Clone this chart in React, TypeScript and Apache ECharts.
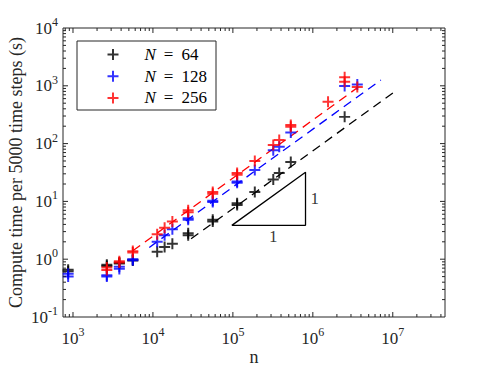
import React, { useEffect, useRef } from 'react';
import * as echarts from 'echarts';

// ---- data ----
const n64 = [870, 870, 2650, 2650, 3800, 3800, 5600, 5600, 11300, 14000, 17500, 27600, 27600, 56000, 56000, 113000, 113000, 188000, 320000, 380000, 530000, 2500000];
const t64 = [0.66, 0.62, 0.80, 0.76, 0.87, 0.84, 0.98, 0.95, 1.35, 1.62, 1.85, 2.8, 2.6, 4.5, 4.8, 9.3, 8.7, 14.6, 24, 31, 48, 290];

const n128 = [870, 870, 2650, 2650, 3800, 3800, 5600, 5600, 11300, 14000, 17500, 27600, 27600, 56000, 56000, 113000, 113000, 188000, 320000, 380000, 530000, 2500000, 3600000];
const t128 = [0.56, 0.50, 0.50, 0.53, 0.68, 0.74, 1.0, 0.96, 2.0, 2.6, 3.3, 4.8, 5.1, 9.8, 10.3, 21, 22, 35, 77, 88, 155, 990, 1050];

const n256 = [2650, 2650, 3800, 3800, 5600, 5600, 11300, 14000, 17500, 27600, 27600, 56000, 56000, 113000, 113000, 188000, 320000, 380000, 530000, 530000, 1550000, 2500000, 2500000, 3600000];
const t256 = [0.72, 0.65, 0.92, 0.88, 1.38, 1.30, 2.7, 3.5, 4.5, 7.0, 6.5, 13.6, 14.5, 29, 31, 50, 95, 115, 195, 210, 528, 1400, 1180, 950];

// dashed fit lines (end points)
const fit64N = [30000, 11200000];
const fit64T = [2.25, 840];
const fit128N = [9000, 7100000];
const fit128T = [1.6, 1260];
const fit256N = [5600, 3700000];
const fit256T = [1.4, 950];

// slope triangle
const triN = [97000, 810000, 810000, 97000];
const triT = [3.85, 3.85, 32, 3.85];
const triLabelRight = [810000, 11.1];
const triLabelBottom = [320000, 3.85];

const seriesNames = ['N = 64', 'N = 128', 'N = 256'];
const seriesColors = ['#000000', '#0000ff', '#ff0000'];

const xMin = 750;
const xMax = 4.5e7;
const yMin = 0.1;
const yMax = 1e4;

const FONT = 'Liberation Serif, serif';
const AXIS_COLOR = '#262626';
const PLUS = 'path://M4.1,0h1.8v4.1h4.1v1.8h-4.1v4.1h-1.8v-4.1h-4.1v-1.8h4.1z';

function zip(a: number[], b: number[]) {
  return a.map((v, i) => [v, b[i]]);
}

function logTicks(lo: number, hi: number) {
  const majors: number[] = [];
  const minors: number[] = [];
  for (let k = Math.floor(Math.log10(lo)) - 1; k <= Math.ceil(Math.log10(hi)); k++) {
    for (let m = 1; m <= 9; m++) {
      const v = m * Math.pow(10, k);
      if (v > lo * 1.0001 && v < hi * 0.9999) {
        if (m === 1) majors.push(v);
        else minors.push(v);
      }
    }
  }
  return { majors, minors };
}

function labelFmt(v: number) {
  const e = Math.log10(v);
  if (Math.abs(e - Math.round(e)) > 1e-6) return '';
  return '{b|10}{s|' + Math.round(e) + '}';
}

const labelRich = {
  b: { fontSize: 17, fontFamily: FONT, color: AXIS_COLOR },
  s: { fontSize: 12, fontFamily: FONT, color: AXIS_COLOR, padding: [0, 0, 12, 0] },
};

export default function App() {
  const ref = useRef<HTMLDivElement>(null);

  useEffect(() => {
    if (!ref.current) return;
    const chart = echarts.init(ref.current, undefined, { renderer: 'svg' });

    const xt = logTicks(xMin, xMax);
    const yt = logTicks(yMin, yMax);
    const tickData: number[][] = [];
    xt.majors.forEach((v) => tickData.push([v, 1, 0]));
    xt.minors.forEach((v) => tickData.push([v, 1, 1]));
    yt.majors.forEach((v) => tickData.push([1000, v, 2]));
    yt.minors.forEach((v) => tickData.push([1000, v, 3]));

    const ns = [n64, n128, n256];
    const ts = [t64, t128, t256];
    const fitN = [fit64N, fit128N, fit256N];
    const fitT = [fit64T, fit128T, fit256T];

    const series: any[] = [];
    for (let i = 0; i < 3; i++) {
      series.push({
        name: 'fit' + i,
        type: 'line',
        data: zip(fitN[i], fitT[i]),
        symbol: 'none',
        lineStyle: { color: seriesColors[i], width: 1.3, type: [9, 6] },
        z: 2,
      });
    }
    for (let i = 0; i < 3; i++) {
      series.push({
        name: seriesNames[i],
        type: 'scatter',
        data: zip(ns[i], ts[i]),
        symbol: PLUS,
        symbolSize: 11,
        itemStyle: { color: seriesColors[i] },
        z: 3,
      });
    }
    series.push({
      name: 'triangle',
      type: 'line',
      data: zip(triN, triT),
      symbol: 'none',
      lineStyle: { color: '#000', width: 1.3 },
      z: 2,
    });
    const triLabelStyle = { fontFamily: FONT, fontSize: 17, color: '#000000', textBorderWidth: 0 };
    series.push({
      name: 'triLabels',
      type: 'scatter',
      symbolSize: 0,
      itemStyle: { color: '#000' },
      data: [
        { value: triLabelRight, label: { ...triLabelStyle, show: true, position: 'right', distance: 5, formatter: '1' } },
        { value: triLabelBottom, label: { ...triLabelStyle, show: true, position: 'bottom', distance: 3, formatter: '1' } },
      ],
      label: triLabelStyle,
      z: 2,
    });
    series.push({
      name: 'ticks',
      type: 'custom',
      coordinateSystem: 'cartesian2d',
      silent: true,
      z: 5,
      encode: { x: 0, y: 1 },
      data: tickData,
      renderItem: (params: any, api: any) => {
        const kind = api.value(2);
        const style = { stroke: AXIS_COLOR, lineWidth: 1 };
        if (kind === 0 || kind === 1) {
          const v = api.value(0);
          const len = kind === 0 ? 5 : 3;
          const pb = api.coord([v, yMin]);
          const pt = api.coord([v, yMax]);
          return {
            type: 'group',
            children: [
              { type: 'line', shape: { x1: pb[0], y1: pb[1], x2: pb[0], y2: pb[1] - len }, style },
              { type: 'line', shape: { x1: pt[0], y1: pt[1], x2: pt[0], y2: pt[1] + len }, style },
            ],
          };
        }
        const v = api.value(1);
        const len = kind === 2 ? 5 : 3;
        const pl = api.coord([xMin, v]);
        const pr = api.coord([xMax, v]);
        return {
          type: 'group',
          children: [
            { type: 'line', shape: { x1: pl[0], y1: pl[1], x2: pl[0] + len, y2: pl[1] }, style },
            { type: 'line', shape: { x1: pr[0], y1: pr[1], x2: pr[0] - len, y2: pr[1] }, style },
          ],
        };
      },
    });

    chart.setOption({
      animation: false,
      backgroundColor: '#ffffff',
      textStyle: { fontFamily: FONT },
      grid: {
        left: 63,
        top: 28,
        right: 46,
        bottom: 52,
        containLabel: false,
        outerBoundsMode: 'none',
        show: true,
        borderColor: AXIS_COLOR,
        borderWidth: 1,
        backgroundColor: 'transparent',
      },
      xAxis: {
        type: 'log',
        logBase: 10,
        min: xMin,
        max: xMax,
        axisLine: { show: false },
        axisTick: { show: false },
        splitLine: { show: false },
        axisLabel: { formatter: labelFmt, rich: labelRich, margin: 9, hideOverlap: false, fontFamily: FONT },
        name: 'n',
        nameLocation: 'middle',
        nameGap: 31,
        nameMoveOverlap: false,
        nameTextStyle: { fontFamily: FONT, fontSize: 18, color: AXIS_COLOR },
      },
      yAxis: {
        type: 'log',
        logBase: 10,
        min: yMin,
        max: yMax,
        axisLine: { show: false },
        axisTick: { show: false },
        splitLine: { show: false },
        axisLabel: { formatter: labelFmt, rich: labelRich, margin: 5, hideOverlap: false, fontFamily: FONT },
        name: 'Compute time per 5000 time steps (s)',
        nameLocation: 'middle',
        nameGap: 38,
        nameMoveOverlap: false,
        nameTextStyle: { fontFamily: FONT, fontSize: 18, color: AXIS_COLOR },
      },
      legend: {
        show: true,
        orient: 'vertical',
        left: 107.5,
        top: 46,
        padding: 0,
        itemGap: 4.7,
        itemWidth: 11,
        itemHeight: 11,
        selectedMode: false,
        data: seriesNames.map((nm) => ({ name: nm, icon: PLUS })),
        formatter: (name: string) => '{i|N}{e|=}{t|' + name.split('= ')[1] + '}',
        textStyle: {
          fontFamily: FONT,
          fontSize: 17,
          color: '#000',
          rich: {
            i: { fontFamily: FONT, fontSize: 17, fontStyle: 'italic', color: '#000', padding: [0, 0, 0, 21] },
            e: { fontFamily: FONT, fontSize: 17, color: '#000', padding: [0, 8, 0, 8] },
            t: { fontFamily: FONT, fontSize: 17, color: '#000' },
          },
        },
      },
      graphic: [
        {
          type: 'rect',
          shape: { x: 77, y: 41, width: 139, height: 69 },
          style: { fill: 'none', stroke: AXIS_COLOR, lineWidth: 1 },
          z: 10,
        },
      ],
      series,
    });

    return () => chart.dispose();
  }, []);

  return (
    <div
      ref={ref}
      style={{ position: 'fixed', left: 0, top: 0, width: 491, height: 369, background: '#fff' }}
    />
  );
}
